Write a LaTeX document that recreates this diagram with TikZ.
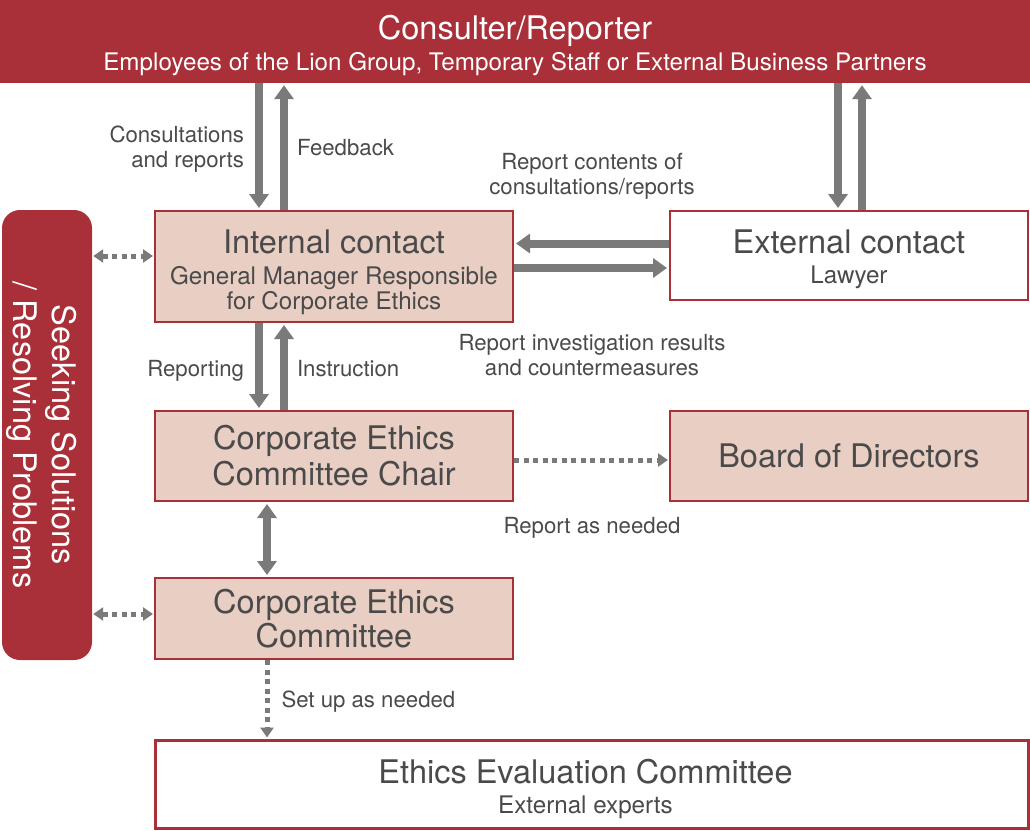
\documentclass[tikz,border=0pt]{standalone}
\usepackage{fontspec}
\setmainfont{TeX Gyre Heros}
\usepackage{xcolor}
\usetikzlibrary{arrows.meta,positioning,calc}
\definecolor{lionred}{HTML}{A92F39}
\definecolor{boxpink}{HTML}{E8CEC3}
\definecolor{arrowgray}{HTML}{7A7A7A}
\definecolor{textgray}{HTML}{4A4A4A}
\newcommand{\hugetxt}{\fontsize{32.5}{36}\selectfont}
\newcommand{\subtxt}{\fontsize{24.2}{25}\selectfont}
\newcommand{\lbltxt}{\fontsize{22.2}{25}\selectfont}

\begin{document}
\begin{tikzpicture}[x=1pt,y=-1pt,
  box/.style={draw=lionred, line width=2pt, minimum width=358pt, inner sep=0pt, align=center, text=textgray},
  pinkbox/.style={box, fill=boxpink},
  bigarrow/.style={draw=arrowgray, line width=8pt, shorten >=2pt, -{Triangle[width=19pt,length=14pt]}},
  twoway/.style={draw=arrowgray, line width=8pt, shorten >=2pt, shorten <=2pt, {Triangle[width=19pt,length=14pt]}-{Triangle[width=19pt,length=14pt]}},
  dotarrow/.style={draw=arrowgray, line width=5pt, dash pattern=on 5pt off 4.5pt, shorten >=1pt, -{Triangle[width=13pt,length=10pt]}},
  dottwoway/.style={dotarrow, shorten <=1pt, {Triangle[width=13pt,length=10pt]}-{Triangle[width=13pt,length=10pt]}},
  lbl/.style={text=textgray, font=\lbltxt, align=center, inner sep=0pt}]
\useasboundingbox (0,0) rectangle (1030,830);
% reporter bar across the top
\node[fill=lionred, minimum width=1030pt, minimum height=83pt, inner sep=0pt, text=white, align=center, font=\subtxt]
  (reporter) at (515,41.5) {{\hugetxt\rule{0pt}{32pt}Consulter/Reporter}\\[5pt]Employees of the Lion Group, Temporary Staff or External Business Partners};
% contact boxes
\node[pinkbox, minimum height=111pt, font=\subtxt] (internal) at (334,266.5)
  {{\hugetxt\rule{0pt}{36pt}Internal contact}\\[6pt]General Manager Responsible\\for Corporate Ethics};
\node[box, fill=white, minimum height=89pt, font=\subtxt] (external) at (849,255.5)
  {{\hugetxt\rule{0pt}{32pt}External contact}\\[5pt]Lawyer};
% committee chain
\node[pinkbox, minimum height=90pt, font=\hugetxt] (chair) at (334,456) {Corporate Ethics\\Committee Chair};
\node[pinkbox, minimum height=90pt, font=\hugetxt] (board) at (849,456) {Board of Directors};
\node[pinkbox, minimum height=81pt, font=\fontsize{32.5}{34}\selectfont] (committee) at (334,618.5) {Corporate Ethics\\Committee};
\node[box, fill=white, line width=3pt, minimum width=873pt, minimum height=88pt, font=\subtxt] (evaluation) at (591.5,784)
  {{\hugetxt\rule{0pt}{34pt}Ethics Evaluation Committee\hspace*{12pt}}\\[5pt]External experts\hspace*{12pt}};
% side bar
\node[fill=lionred, rounded corners=18pt, minimum width=90pt, minimum height=450pt, inner sep=0pt] (solving) at (47,435) {};
\node[rotate=-90, text=white, align=center, inner sep=0pt, font=\fontsize{32.5}{39}\selectfont] (solvingtxt) at ($(solving.center)+(-5,0)$)
  {Seeking Solutions\\/ Resolving Problems};
% reporter <-> contacts
\draw[bigarrow] ($(internal.north |- reporter.south)+(-75,0)$) -- ($(internal.north)+(-75,0)$)
  node[lbl, midway, left=11pt, align=right, yshift=-3pt] {Consultations\\and reports};
\draw[bigarrow] ($(internal.north)+(-50,0)$) -- ($(internal.north |- reporter.south)+(-50,0)$)
  node[lbl, midway, right=9pt, yshift=-1pt] {Feedback};
\draw[bigarrow] ($(external.north |- reporter.south)+(-11,0)$) -- ($(external.north)+(-11,0)$);
\draw[bigarrow] ($(external.north)+(13,0)$) -- ($(external.north |- reporter.south)+(13,0)$);
% internal <-> external
\draw[bigarrow] ($(external.west)+(0,-12)$) -- ($(external.west -| internal.east)+(0,-12)$);
\draw[bigarrow] ($(external.west -| internal.east)+(0,12.5)$) -- ($(external.west)+(0,12.5)$);
\node[lbl] (contentslbl) at (592,176.5) {Report contents of\\consultations/reports};
\node[lbl] (resultslbl) at (592,355) {Report investigation results\\and countermeasures};
% internal <-> chair
\draw[bigarrow] ($(internal.south)+(-75,0)$) -- ($(chair.north)+(-75,0)$)
  node[lbl, midway, left=11pt, yshift=-4pt] {Reporting};
\draw[bigarrow] ($(chair.north)+(-50,0)$) -- ($(internal.south)+(-50,0)$)
  node[lbl, midway, right=9pt, yshift=-2pt] {Instruction};
% chair -> board, chair <-> committee
\draw[dotarrow] ($(chair.east)+(0,4)$) -- ($(board.west)+(0,4)$);
\node[lbl] (neededlbl) at (592,528) {Report as needed};
\draw[twoway] ($(chair.south)+(-67,0)$) -- ($(committee.north)+(-67,0)$);
% committee -> evaluation
\draw[dotarrow] ($(committee.south)+(-67,0)$) -- ($(committee.south |- evaluation.north)+(-67,0)$)
  node[lbl, midway, right=12pt, yshift=-2pt] {Set up as needed};
% side bar links
\draw[dottwoway] ($(solving.east |- internal.west)+(0,-10.5)$) -- ($(internal.west)+(0,-10.5)$);
\draw[dottwoway] ($(solving.east |- committee.west)+(0,-4.5)$) -- ($(committee.west)+(0,-4.5)$);
\end{tikzpicture}
\end{document}
